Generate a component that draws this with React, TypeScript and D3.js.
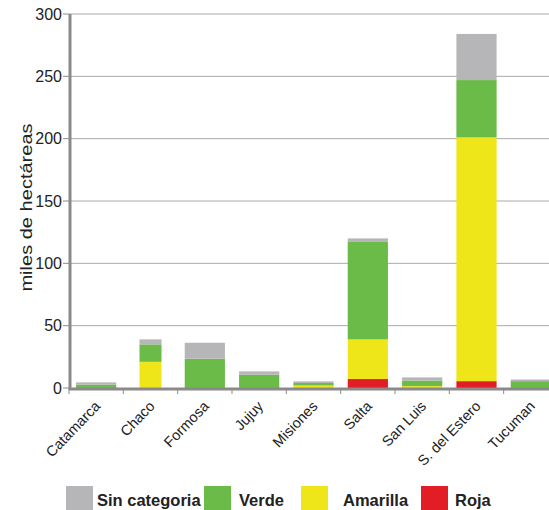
import React, { useEffect, useRef } from 'react';
import * as d3 from 'd3';

const provincias = ['Catamarca', 'Chaco', 'Formosa', 'Jujuy', 'Misiones', 'Salta', 'San Luis', 'S. del Estero', 'Tucuman'];
const roja = [0, 0, 0, 0, 0, 7.2, 0, 5.5, 0];
const amarilla = [0, 21, 0, 0, 2, 31.8, 1.5, 195.5, 0];
const verde = [2.6, 14, 23.5, 10.7, 2, 78.6, 4.5, 46, 5.5];
const sinCategoria = [1.9, 4, 12.8, 2.6, 1.3, 2.4, 2.5, 37, 1.3];
const yTicks = [0, 50, 100, 150, 200, 250, 300];

const series = [
  { key: 'Roja', values: roja, color: '#e31d25' },
  { key: 'Amarilla', values: amarilla, color: '#eee619' },
  { key: 'Verde', values: verde, color: '#6abb48' },
  { key: 'Sin categoria', values: sinCategoria, color: '#b6b6b8' },
];
const legendOrder = ['Sin categoria', 'Verde', 'Amarilla', 'Roja'];

const FONT = 'Liberation Sans, Arial, sans-serif';

const App: React.FC = () => {
  const svgRef = useRef<SVGSVGElement>(null);

  useEffect(() => {
    if (!svgRef.current) return;
    const svg = d3.select(svgRef.current);
    svg.selectAll('*').remove();

    const width = 549;
    const height = 510;
    const left = 69;
    const top = 14;
    const bottom = 388;

    const x = d3.scaleBand<string>()
      .domain(provincias)
      .range([left, 558])
      .paddingInner(0.26)
      .paddingOuter(0.13);
    const y = d3.scaleLinear().domain([0, 300]).range([bottom, top]);
    const step = x.step();
    const bw = x.bandwidth();

    svg.attr('width', width).attr('height', height);

    // gridlines
    svg.append('g')
      .selectAll('line')
      .data(yTicks.filter(t => t > 0))
      .join('line')
      .attr('x1', left)
      .attr('x2', width)
      .attr('y1', d => y(d))
      .attr('y2', d => y(d))
      .attr('stroke', '#a9a9a9')
      .attr('stroke-width', 1);

    // y tick marks + labels
    const yg = svg.append('g');
    yg.selectAll('line')
      .data(yTicks)
      .join('line')
      .attr('x1', left - 6)
      .attr('x2', left)
      .attr('y1', d => y(d))
      .attr('y2', d => y(d))
      .attr('stroke', '#8a8a8a')
      .attr('stroke-width', 1);
    yg.selectAll('text')
      .data(yTicks)
      .join('text')
      .attr('x', left - 7)
      .attr('y', d => y(d))
      .attr('dy', '0.36em')
      .attr('text-anchor', 'end')
      .attr('font-family', FONT)
      .attr('font-size', 16)
      .attr('fill', '#222')
      .text(d => d);

    // y title (source art is slightly stretched vertically)
    svg.append('text')
      .attr('transform', 'translate(32,207.5) scale(1,1.18) rotate(-90)')
      .attr('text-anchor', 'middle')
      .attr('font-family', FONT)
      .attr('font-size', 17)
      .attr('fill', '#222')
      .text('miles de hectáreas');

    // stacked bars
    const stacked = series.map((s, si) =>
      provincias.map((p, i) => {
        const y0 = series.slice(0, si).reduce((acc, o) => acc + o.values[i], 0);
        return { p, y0, y1: y0 + s.values[i], color: s.color };
      })
    );
    const barW = (p: string) => (p === 'Chaco' ? 22 : bw);
    stacked.forEach(layer => {
      svg.append('g')
        .selectAll('rect')
        .data(layer.filter(d => d.y1 > d.y0))
        .join('rect')
        .attr('x', d => (x(d.p) as number) + (bw - barW(d.p)) / 2)
        .attr('width', d => barW(d.p))
        .attr('y', d => y(d.y1))
        .attr('height', d => y(d.y0) - y(d.y1))
        .attr('fill', d => d.color);
    });

    // axes lines
    svg.append('line')
      .attr('x1', left).attr('x2', width)
      .attr('y1', bottom + 1).attr('y2', bottom + 1)
      .attr('stroke', '#8a8a8a').attr('stroke-width', 3);
    svg.append('line')
      .attr('x1', left + 1).attr('x2', left + 1)
      .attr('y1', top).attr('y2', bottom + 2)
      .attr('stroke', '#8a8a8a').attr('stroke-width', 3);

    // x tick marks between categories
    svg.append('g')
      .selectAll('line')
      .data(d3.range(provincias.length + 1))
      .join('line')
      .attr('x1', i => left + i * step)
      .attr('x2', i => left + i * step)
      .attr('y1', bottom)
      .attr('y2', bottom + 6)
      .attr('stroke', '#8a8a8a')
      .attr('stroke-width', 1);

    // x labels
    svg.append('g')
      .selectAll('text')
      .data(provincias)
      .join('text')
      .attr('transform', d => `translate(${(x(d) as number) + bw / 2 + 5},407) rotate(-46)`)
      .attr('text-anchor', 'end')
      .attr('font-family', FONT)
      .attr('font-size', 14.5)
      .attr('fill', '#222')
      .text(d => d);

    // legend
    const boxX = [66, 204, 301, 421];
    const textX = [97, 239, 343, 455];
    const lg = svg.append('g');
    legendOrder.forEach((k, i) => {
      const s = series.find(o => o.key === k)!;
      lg.append('rect')
        .attr('x', boxX[i]).attr('y', 486)
        .attr('width', 27).attr('height', 25)
        .attr('fill', s.color);
      lg.append('text')
        .attr('x', textX[i])
        .attr('y', 506)
        .attr('font-family', FONT)
        .attr('font-size', 16.5)
        .attr('font-weight', 'bold')
        .attr('fill', '#222')
        .text(k);
    });
  }, []);

  return (
    <svg ref={svgRef} style={{ position: 'absolute', left: 0, top: 0, background: '#fff' }} />
  );
};

export default App;
